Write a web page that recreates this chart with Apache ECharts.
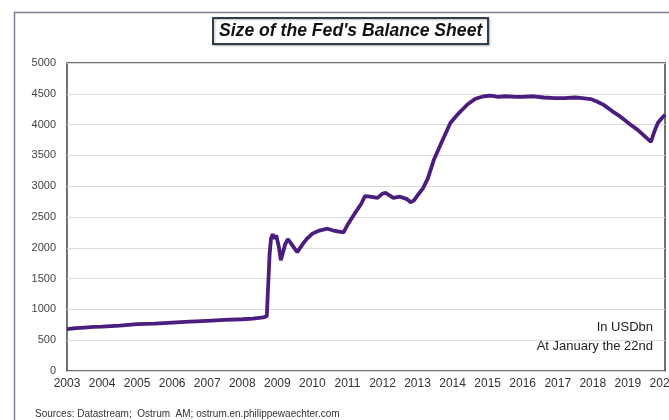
<!DOCTYPE html>
<html>
<head>
<meta charset="utf-8">
<script src="https://cdn.jsdelivr.net/npm/echarts@6/dist/echarts.min.js"></script>
<style>
  html, body { margin: 0; padding: 0; background: #fff; }
  #chart { width: 669px; height: 420px; }
</style>
</head>
<body>
<div id="chart"></div>
<script>
// Fed balance sheet size, USD bn, by decimal year
const years = [
  2003.0, 2003.25, 2003.5, 2003.75, 2004.0, 2004.5, 2005.0, 2005.5, 2006.0, 2006.5,
  2007.0, 2007.5, 2008.0, 2008.3, 2008.6, 2008.70, 2008.74, 2008.78, 2008.82, 2008.87,
  2008.92, 2008.97, 2009.05, 2009.1, 2009.15, 2009.22, 2009.3, 2009.38, 2009.48, 2009.57,
  2009.65, 2009.75, 2009.85, 2010.0, 2010.2, 2010.43, 2010.6, 2010.89, 2011.0, 2011.2,
  2011.4, 2011.5, 2011.65, 2011.86, 2012.0, 2012.1, 2012.2, 2012.31, 2012.5, 2012.7,
  2012.8, 2012.9, 2013.0, 2013.15, 2013.29, 2013.46, 2013.7, 2013.94, 2014.2, 2014.43,
  2014.65, 2014.89, 2015.09, 2015.3, 2015.5, 2015.8, 2016.0, 2016.3, 2016.6, 2016.9,
  2017.2, 2017.5, 2017.7, 2017.94, 2018.1, 2018.31, 2018.55, 2018.8, 2019.05, 2019.29,
  2019.5, 2019.66, 2019.71, 2019.74, 2019.8, 2019.86, 2019.95, 2020.06
];
const balance = [
  680, 695, 705, 715, 720, 735, 760, 770, 785, 800,
  815, 830, 840, 850, 870, 890, 1400, 1900, 2150, 2220,
  2150, 2200, 2000, 1800, 1900, 2050, 2140, 2080, 2000, 1930,
  2000, 2080, 2150, 2230, 2280, 2310, 2280, 2250, 2370, 2550,
  2720, 2840, 2830, 2810, 2880, 2890, 2850, 2810, 2830, 2790,
  2740, 2770, 2850, 2960, 3120, 3420, 3730, 4030, 4200, 4330,
  4420, 4460, 4470, 4450, 4460, 4450, 4450, 4460, 4440, 4430,
  4430, 4440, 4430, 4415, 4380, 4320, 4220, 4125, 4010, 3910,
  3800, 3720, 3740, 3860, 3950, 4030, 4090, 4160
];
const yearTicks = [2003, 2004, 2005, 2006, 2007, 2008, 2009, 2010, 2011, 2012,
  2013, 2014, 2015, 2016, 2017, 2018, 2019, 2020];

const seriesData = years.map((y, i) => [y, balance[i]]);
const labelFont = '"Liberation Sans", Arial, sans-serif';

const chart = echarts.init(document.getElementById('chart'), null, { renderer: 'canvas' });
chart.setOption({
  animation: false,
  backgroundColor: '#ffffff',
  title: {
    text: "Size of the Fed's Balance Sheet",
    left: 213,
    top: 18,
    padding: [4, 6, 4, 6],
    borderColor: '#2e3f52',
    borderWidth: 2,
    backgroundColor: '#ffffff',
    shadowColor: 'rgba(0,0,0,0.25)',
    shadowBlur: 2,
    shadowOffsetX: 1,
    shadowOffsetY: 1,
    textStyle: {
      fontFamily: labelFont,
      fontSize: 17.6,
      fontWeight: 'bold',
      fontStyle: 'italic',
      color: '#111'
    }
  },
  grid: {
    left: 67, right: 4, top: 63, bottom: 49,
    outerBoundsMode: 'none',
    containLabel: false,
    show: true, borderColor: '#444', borderWidth: 1.5
  },
  xAxis: {
    type: 'value',
    min: 2003,
    max: 2020.06,
    interval: 1,
    axisLine: { show: false },
    axisTick: { show: false },
    splitLine: { show: false },
    axisLabel: {
      color: '#333',
      fontFamily: labelFont,
      fontSize: 12,
      margin: 7,
      showMaxLabel: true,
      hideOverlap: false,
      customValues: yearTicks,
      formatter: v => String(Math.round(v))
    }
  },
  yAxis: {
    type: 'value',
    min: 0,
    max: 5000,
    interval: 500,
    axisLine: { show: false },
    axisTick: { show: false },
    splitLine: { lineStyle: { color: '#d9d9d9', width: 1 } },
    axisLabel: {
      color: '#444',
      fontFamily: labelFont,
      fontSize: 11,
      margin: 11,
      formatter: v => String(v)
    }
  },
  series: [{
    type: 'line',
    data: seriesData,
    showSymbol: false,
    lineStyle: { color: '#4b1d7e', width: 3.8 },
    clip: true
  }],
  graphic: [
    {
      type: 'rect',
      shape: { x: 14.5, y: 12.5, width: 700, height: 500 },
      style: { fill: null, stroke: '#7d7f9c', lineWidth: 1.5 },
      silent: true
    },
    {
      type: 'text',
      x: 653,
      y: 321,
      style: {
        text: 'In USDbn',
        align: 'right',
        fill: '#222',
        font: '13px ' + labelFont
      }
    },
    {
      type: 'text',
      x: 653,
      y: 340,
      style: {
        text: 'At January the 22nd',
        align: 'right',
        fill: '#222',
        font: '13px ' + labelFont
      }
    },
    {
      type: 'text',
      left: 35,
      top: 409,
      style: {
        text: 'Sources: Datastream;  Ostrum  AM; ostrum.en.philippewaechter.com',
        fill: '#333',
        font: '10px ' + labelFont
      }
    }
  ]
});
</script>
</body>
</html>
